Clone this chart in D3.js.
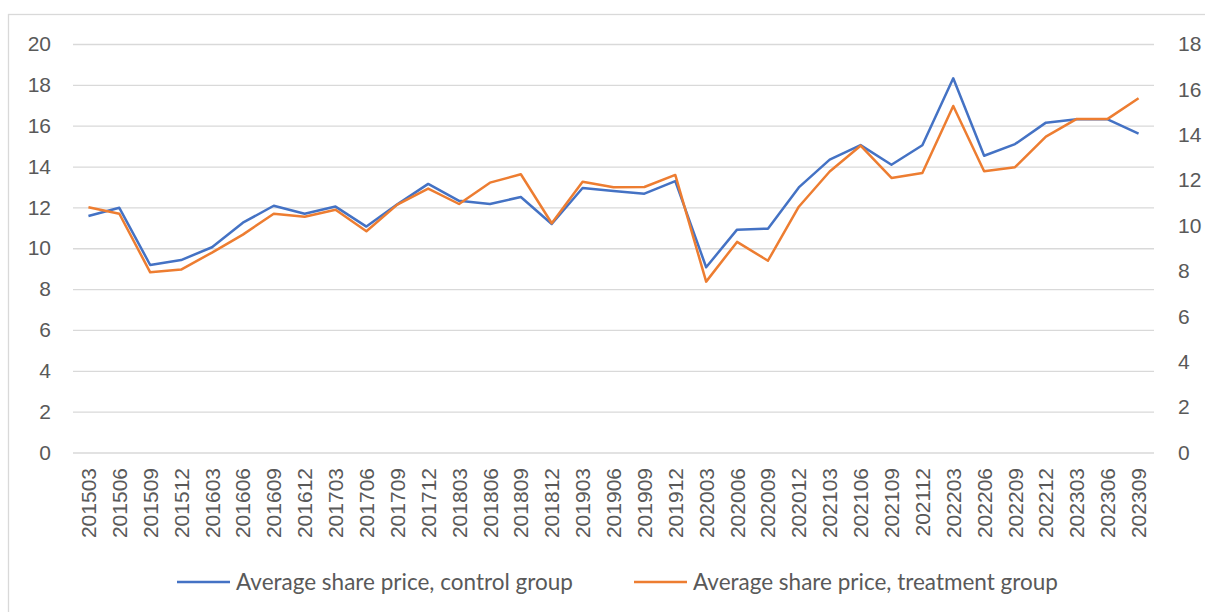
<!DOCTYPE html>
<html lang="en">
<head>
    <meta charset="UTF-8">
    <title>Average share price, control vs treatment group</title>
    <script src="https://cdnjs.cloudflare.com/ajax/libs/d3/7.8.5/d3.min.js"></script>
    <style>
        body { margin: 0; background: #fff; }
        svg { display: block; font-family: Lato, "Open Sans", sans-serif; }
        .axis text { fill: #595959; font-size: 21px; }
        .axis path { display: none; }
        .grid line { stroke: #d9d9d9; stroke-width: 1.3; }
        .legend text { fill: #595959; font-size: 22.5px; }
    </style>
</head>
<body>
<svg width="1205" height="612"></svg>
<script>
    // quarters shown on the x axis
    const quarters = [
        "201503", "201506", "201509", "201512", "201603", "201606", "201609", "201612",
        "201703", "201706", "201709", "201712", "201803", "201806", "201809", "201812",
        "201903", "201906", "201909", "201912", "202003", "202006", "202009", "202012",
        "202103", "202106", "202109", "202112", "202203", "202206", "202209", "202212",
        "202303", "202306", "202309"
    ];

    // control group, plotted on the left axis
    const control = [
        11.58, 11.98, 9.18, 9.42, 10.05, 11.25, 12.08, 11.69, 12.04, 11.06, 12.15, 13.15,
        12.32, 12.17, 12.51, 11.19, 12.95, 12.80, 12.67, 13.29, 9.07, 10.91, 10.96, 12.98,
        14.34, 15.05, 14.09, 15.04, 18.32, 14.53, 15.10, 16.15, 16.31, 16.31, 15.61
    ];

    // treatment group, plotted on the right axis
    const treatment = [
        10.81, 10.52, 7.94, 8.06, 8.81, 9.60, 10.52, 10.39, 10.70, 9.75, 10.92, 11.63,
        10.95, 11.89, 12.26, 10.10, 11.93, 11.69, 11.70, 12.23, 7.53, 9.28, 8.45, 10.83,
        12.38, 13.52, 12.10, 12.32, 15.27, 12.39, 12.57, 13.92, 14.70, 14.70, 15.61
    ];

    const leftTicks = [0, 2, 4, 6, 8, 10, 12, 14, 16, 18, 20];
    const rightTicks = [0, 2, 4, 6, 8, 10, 12, 14, 16, 18];

    const svg = d3.select("svg");
    const plot = { left: 73, right: 1154, top: 44, bottom: 452.5 };

    // chart frame (right and bottom edges fall outside the picture)
    svg.append("rect")
        .attr("x", 8.5).attr("y", 14.5)
        .attr("width", 1220).attr("height", 620)
        .attr("fill", "none")
        .attr("stroke", "#d9d9d9")
        .attr("stroke-width", 1.3);

    const x = d3.scaleBand()
        .domain(quarters)
        .range([plot.left, plot.right]);
    const cx = d => x(d) + x.bandwidth() / 2;

    const yLeft = d3.scaleLinear().domain([0, 20]).range([plot.bottom, plot.top]);
    const yRight = d3.scaleLinear().domain([0, 18]).range([plot.bottom, plot.top]);

    // gridlines + left axis
    svg.append("g")
        .attr("class", "axis grid")
        .attr("transform", `translate(${plot.left},0)`)
        .call(d3.axisLeft(yLeft)
            .tickValues(leftTicks)
            .tickSize(-(plot.right - plot.left))
            .tickPadding(22));

    // right axis
    svg.append("g")
        .attr("class", "axis")
        .attr("transform", `translate(${plot.right},0)`)
        .call(d3.axisRight(yRight)
            .tickValues(rightTicks)
            .tickSize(0)
            .tickPadding(24));

    // bottom axis with vertical labels
    svg.append("g")
        .attr("class", "axis")
        .attr("transform", `translate(0,${plot.bottom})`)
        .call(d3.axisBottom(x).tickSize(0))
        .selectAll("text")
        .attr("transform", "rotate(-90)")
        .attr("x", -15.5)
        .attr("y", 0)
        .attr("dy", "0.36em")
        .style("text-anchor", "end");

    const series = [
        { name: "Average share price, control group", values: control, y: yLeft, color: "#4472c4" },
        { name: "Average share price, treatment group", values: treatment, y: yRight, color: "#ed7d31" }
    ];

    series.forEach(s => {
        const line = d3.line()
            .x((d, i) => cx(quarters[i]))
            .y(d => s.y(d));
        svg.append("path")
            .datum(s.values)
            .attr("fill", "none")
            .attr("stroke", s.color)
            .attr("stroke-width", 2.5)
            .attr("stroke-linejoin", "round")
            .attr("d", line);
    });

    // legend
    const legendX = [177, 634];
    const legend = svg.append("g").attr("class", "legend");
    series.forEach((s, i) => {
        legend.append("line")
            .attr("x1", legendX[i]).attr("x2", legendX[i] + 53)
            .attr("y1", 582).attr("y2", 582)
            .attr("stroke", s.color)
            .attr("stroke-width", 2.5);
        legend.append("text")
            .attr("x", legendX[i] + 59)
            .attr("y", 582)
            .attr("dy", "0.35em")
            .text(s.name);
    });
</script>
</body>
</html>
